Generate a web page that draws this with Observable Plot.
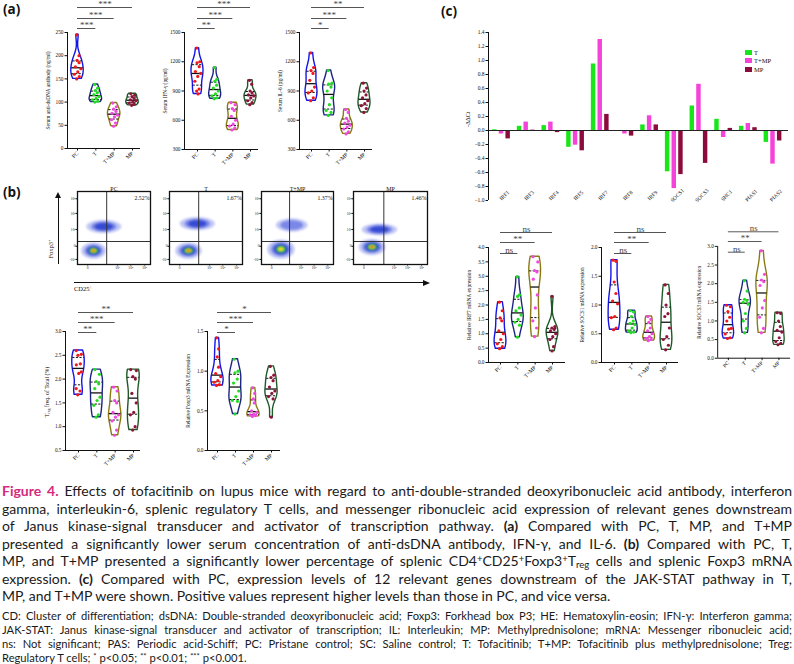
<!DOCTYPE html>
<html><head><meta charset="utf-8">
<script src="https://cdn.jsdelivr.net/npm/d3@7"></script>
<script src="https://cdn.jsdelivr.net/npm/@observablehq/plot@0.6"></script>
<style>
body{margin:0;background:#fff;}
#fig{position:relative;width:794px;height:664px;overflow:hidden;background:#fff;}
.p{position:absolute;}
.plab{position:absolute;font-family:"Open Sans",sans-serif;font-weight:700;font-size:13.5px;color:#111;line-height:1;}
.rot{position:absolute;transform:translate(-50%,-50%) rotate(-90deg);white-space:nowrap;font-family:"Liberation Serif",serif;color:#111;}
#cap{position:absolute;left:2px;top:482px;width:790px;font-family:Lato,sans-serif;font-size:14px;line-height:17.5px;color:#1a1a1a;}
#cap .j{text-align:justify;text-align-last:justify;}
#cap .fig{color:#d42a7e;font-weight:700;}
#foot{position:absolute;left:2px;top:609px;width:790px;font-family:Lato,sans-serif;font-size:11.2px;line-height:14px;color:#1a1a1a;}
#foot .j{text-align:justify;text-align-last:justify;}
.sp{font-size:68%;position:relative;top:-0.45em;line-height:0;vertical-align:baseline;}
.sb{font-size:68%;position:relative;top:0.25em;line-height:0;vertical-align:baseline;}
.leg{position:absolute;font-family:"Liberation Serif",serif;font-size:6.5px;color:#111;display:flex;align-items:center;gap:2px;}
.leg span.sw{display:inline-block;width:7px;height:5px;}
</style></head>
<body><div id="fig"></div>
<script>
// ---------------- DATA ----------------
const groups = ["PC", "T", "T+MP", "MP"];

// (a) serum levels (one list per group: PC, T, T+MP, MP)
const antiDsDNA = [
  [245, 200, 190, 185, 176, 172, 165, 160, 155, 150],
  [138, 130, 125, 120, 116, 112, 108, 105, 102, 100],
  [98, 90, 85, 80, 76, 72, 68, 62, 55, 48],
  [118, 115, 112, 108, 105, 103, 100, 98, 95, 93]
];
const ifnGamma = [
  [1340, 1200, 1190, 1150, 1100, 1080, 1050, 1000, 920, 900, 870],
  [1140, 1020, 1000, 960, 930, 900, 870, 850, 830, 820],
  [780, 760, 720, 700, 640, 600, 560, 540, 520, 500],
  [1010, 970, 900, 880, 860, 850, 830, 800, 780, 760]
];
const il6 = [
  [1290, 1140, 1110, 1080, 1010, 940, 900, 880, 830, 800],
  [1110, 980, 970, 940, 900, 830, 760, 700, 680, 650],
  [710, 680, 620, 590, 570, 550, 530, 510, 480, 460],
  [980, 930, 900, 860, 830, 800, 770, 750, 720, 680]
];
const antiDsDNASig = [["***", 0, 1], ["***", 0, 2], ["***", 0, 3]];
const ifnGammaSig = [["**", 0, 1], ["***", 0, 2], ["***", 0, 3]];
const il6Sig = [["*", 0, 1], ["***", 0, 2], ["**", 0, 3]];

// (b) Treg and Foxp3
const tregFreq = [
  [2.6, 2.52, 2.5, 2.32, 2.3, 2.15, 2.12, 1.8, 1.75, 1.67],
  [2.2, 2.1, 1.95, 1.9, 1.8, 1.62, 1.55, 1.45, 1.25, 1.2],
  [1.83, 1.75, 1.55, 1.5, 1.3, 1.25, 1.2, 1.12, 0.93, 0.82],
  [2.2, 2.18, 2.05, 2.0, 1.7, 1.5, 1.3, 1.25, 1.0, 0.93]
];
const foxp3Expr = [
  [1.42, 1.28, 1.18, 1.05, 0.97, 0.93, 0.88, 0.86, 0.83, 0.82],
  [1.15, 1.0, 0.98, 0.9, 0.85, 0.75, 0.68, 0.63, 0.62, 0.46],
  [0.79, 0.72, 0.65, 0.6, 0.5, 0.48, 0.46, 0.45, 0.44, 0.43],
  [1.06, 0.95, 0.92, 0.88, 0.8, 0.75, 0.72, 0.68, 0.65, 0.42]
];
const tregSig = [["**", 0, 1], ["***", 0, 2], ["**", 0, 3]];
const foxp3Sig = [["*", 0, 1], ["***", 0, 2], ["*", 0, 3]];

// (b) flow cytometry
const flowGroups = ["PC", "T", "T+MP", "MP"];
const flowPercent = ["2.52%", "1.67%", "1.37%", "1.46%"];
const gateCD25 = [0.40, 0.40, 0.39, 0.41];
const gateFoxp3 = [0.315, 0.315, 0.315, 0.315];
// clusters: [centre CD25, centre Foxp3, spread CD25, spread Foxp3, density level]
const negClusters = [[0.22, 0.19, 0.17, 0.11, 4], [0.26, 0.19, 0.18, 0.11, 4], [0.27, 0.21, 0.19, 0.13, 3], [0.25, 0.24, 0.18, 0.11, 4]];
const posClusters = [[0.36, 0.52, 0.24, 0.09, 1], [0.38, 0.56, 0.24, 0.09, 1], [0.42, 0.54, 0.22, 0.09, 0], [0.35, 0.48, 0.24, 0.08, 1]];
const flowYTicks = [[0.07, "-10³"], [0.25, "0"], [0.48, "10³"], [0.70, "10⁴"], [0.90, "10⁵"]];
const flowXTicks = [[0.14, "0"], [0.55, "10³"], [0.73, "10⁴"], [0.92, "10⁵"]];

// (c) -ΔΔCt bar chart
const genes = ["IRF1", "IRF3", "IRF4", "IRF5", "IRF7", "IRF8", "IRF9", "SOCS1", "SOCS3", "SHC1", "PIAS1", "PIAS2"];
const ddctT = [0.01, 0.06, 0.07, -0.24, 0.95, -0.01, 0.08, -0.59, 0.35, 0.16, 0.06, -0.17];
const ddctTMP = [-0.05, 0.12, 0.12, -0.21, 1.30, -0.05, 0.21, -0.83, 0.66, -0.10, 0.10, -0.48];
const ddctMP = [-0.12, 0.005, -0.03, -0.29, 0.23, -0.08, 0.08, -0.63, -0.47, 0.03, 0.04, -0.15];
const barSeries = ["T", "T+MP", "MP"];

// (c) relative mRNA expression
const irf7Expr = [
  [2.1, 1.8, 1.55, 1.45, 1.1, 1.0, 0.8, 0.65, 0.55, 0.48],
  [2.98, 2.35, 2.3, 1.9, 1.8, 1.65, 1.5, 1.4, 1.3, 0.88],
  [3.68, 3.5, 3.2, 3.15, 2.9, 2.35, 1.9, 1.45, 1.2, 0.9],
  [2.3, 1.25, 1.2, 1.15, 1.1, 1.0, 0.9, 0.8, 0.55, 0.4]
];
const socs1Expr = [
  [1.78, 1.76, 1.4, 1.2, 1.07, 1.02, 0.8, 0.78, 0.6, 0.57],
  [0.9, 0.88, 0.8, 0.72, 0.68, 0.66, 0.6, 0.55, 0.53, 0.52],
  [0.8, 0.75, 0.7, 0.6, 0.55, 0.5, 0.45, 0.42, 0.4, 0.38],
  [1.35, 1.2, 1.0, 0.85, 0.8, 0.6, 0.45, 0.4, 0.3, 0.22]
];
const socs3Expr = [
  [1.42, 1.38, 1.25, 1.1, 1.0, 0.8, 0.78, 0.65, 0.55, 0.53],
  [2.08, 1.8, 1.58, 1.55, 1.5, 1.45, 1.2, 1.0, 0.8, 0.68],
  [2.88, 2.25, 2.1, 2.05, 1.95, 1.55, 1.35, 1.1, 0.8, 0.68],
  [1.22, 1.2, 1.0, 0.85, 0.75, 0.7, 0.55, 0.45, 0.4, 0.36]
];
const irf7Sig = [["ns", 0, 1], ["**", 0, 2], ["ns", 0, 3]];
const socs1Sig = [["ns", 0, 1], ["**", 0, 2], ["ns", 0, 3]];
const socs3Sig = [["ns", 0, 1], ["**", 0, 2], ["ns", 0, 3]];

// ---------------- STYLES ----------------
const outlineColors = ["#1414e8", "#1c2584", "#8a7a12", "#1d5a28"];
const pointColors = ["#f01818", "#22dd22", "#f048e0", "#8c1538"];
const barColors = ["#19e619", "#f542d8", "#8b0c3c"];
const svgStyle = "background:transparent;overflow:visible;font-family:'Liberation Serif',serif;color:#111;";
const fig = document.getElementById("fig");

function place(node, left, top) {
  const d = document.createElement("div");
  d.className = "p";
  d.style.left = left + "px"; d.style.top = top + "px";
  d.appendChild(node); fig.appendChild(d); return d;
}
function html(cls, text, css) {
  const d = document.createElement("div");
  d.className = cls; d.innerHTML = text; Object.assign(d.style, css); fig.appendChild(d); return d;
}

function kde(vals) {
  const lo = d3.min(vals), hi = d3.max(vals);
  const h = 0.75 * d3.deviation(vals) * Math.pow(vals.length, -0.2);
  const ys = d3.range(31).map(k => lo + (hi - lo) * k / 30);
  const dens = ys.map(y => d3.sum(vals, v => Math.exp(-0.5 * ((y - v) / h) ** 2)));
  const m = d3.max(dens);
  const w = dens.map(d => 0.34 * d / m);
  const at = y => {
    const t = (y - lo) / (hi - lo) * 30;
    const k = Math.max(0, Math.min(29, Math.floor(t)));
    const f = Math.max(0, Math.min(1, t - k));
    return w[k] * (1 - f) + w[k + 1] * f;
  };
  return {ys, w, at};
}
const jitter = [-0.5, 0.5, -0.1, 0.3, -0.35, 0.55, 0.05, -0.55, 0.35, -0.2, 0.15];

function violinChart(c) {
  const mL = 30, mR = 4, mT = 40, mB = 28;
  const left = c.ax - mL, top = c.yTop - mT;
  const width = c.right - c.ax + mL + mR;
  const height = c.yBot - c.yTop + mT + mB;
  const r0 = c.x0 - left, r1 = c.x3 - left;
  const inv = px => (px - r0) / (r1 - r0) * 3;
  const marks = [
    Plot.ruleX([inv(mL)], {stroke: "#111", strokeWidth: 1}),
    Plot.ruleY([c.domain[0]], {stroke: "#111", strokeWidth: 1}),
    Plot.axisY({ticks: c.ticks, tickFormat: c.fmt, tickSize: 2.5, tickPadding: 1.5, fontSize: 5.3,
      label: c.label, labelAnchor: "center", labelOffset: 21, labelArrow: "none"}),
    Plot.axisX({ticks: [0, 1, 2, 3], tickFormat: i => groups[i], tickRotate: -45, tickSize: 2.5, tickPadding: 1.5, fontSize: 5.5, label: null})
  ];
  c.data.forEach((vals, g) => {
    const v = kde(vals);
    const rows = v.ys.map((y, k) => ({y, xl: g - v.w[k], xr: g + v.w[k]}));
    marks.push(Plot.areaX(rows, {y: "y", x1: "xl", x2: "xr", fill: "white", stroke: outlineColors[g], strokeWidth: 1.4, curve: "basis"}));
    const sorted = vals.slice().sort(d3.ascending);
    const q = [0.25, 0.5, 0.75].map(p => d3.quantile(sorted, p));
    const qrows = q.map((y, k) => ({y, x1: g - v.at(y) * 0.95, x2: g + v.at(y) * 0.95, k}));
    marks.push(Plot.ruleY(qrows.filter(d => d.k !== 1), {y: "y", x1: "x1", x2: "x2", stroke: "#111", strokeWidth: 1, strokeDasharray: "2.2,1.4"}));
    marks.push(Plot.ruleY(qrows.filter(d => d.k === 1), {y: "y", x1: "x1", x2: "x2", stroke: "#111", strokeWidth: 1.3}));
    const pts = vals.map((y, i) => ({y, x: g + jitter[i % jitter.length] * v.at(y)}));
    marks.push(Plot.dot(pts, {x: "x", y: "y", r: 1.6, fill: pointColors[g], stroke: "none"}));
  });
  c.sig.forEach(([lab, a, b], k) => {
    marks.push(Plot.ruleY([{y: c.domain[1], x1: a, x2: b}], {y: "y", x1: "x1", x2: "x2", stroke: "#555", strokeWidth: 1, dy: -c.offs[k]}));
    marks.push(Plot.text([{x: (a + b) / 2, y: c.domain[1], t: lab}], {x: "x", y: "y", text: "t", dy: -c.offs[k] - 0.5, lineAnchor: "bottom", fontSize: 9, fill: "#444"}));
  });
  const p = Plot.plot({width, height, marginLeft: mL, marginRight: mR, marginTop: mT, marginBottom: mB,
    x: {domain: [0, 3], range: [r0, r1]}, y: {domain: c.domain}, style: svgStyle, marks});
  place(p, left, top);
}

const f0 = d3.format("d"), f1 = d3.format(".1f");
// (a)
violinChart({data: antiDsDNA, sig: antiDsDNASig, ax: 67, right: 140, x0: 77, x3: 132, yTop: 32, yBot: 148, domain: [0, 250],
  ticks: [0, 50, 100, 150, 200, 250], fmt: f0, label: "Serum anti-dsDNA antibody (ng/ml)", offs: [4, 14, 25]});
violinChart({data: ifnGamma, sig: ifnGammaSig, ax: 184, right: 258, x0: 197, x3: 250, yTop: 32, yBot: 149, domain: [300, 1500],
  ticks: [300, 600, 900, 1200, 1500], fmt: f0, label: "Serum IFN-γ (pg/ml)", offs: [4, 14, 25]});
violinChart({data: il6, sig: il6Sig, ax: 299, right: 372, x0: 311, x3: 364, yTop: 32, yBot: 149, domain: [300, 1500],
  ticks: [300, 600, 900, 1200, 1500], fmt: f0, label: "Serum IL-6 (pg/ml)", offs: [4, 14, 25]});
// (b)
violinChart({data: tregFreq, sig: tregSig, ax: 65, right: 140, x0: 78, x3: 133, yTop: 331, yBot: 450, domain: [0.5, 3.0],
  ticks: [0.5, 1.0, 1.5, 2.0, 2.5, 3.0], fmt: f1, label: null, offs: [-1, 9, 19]});
violinChart({data: foxp3Expr, sig: foxp3Sig, ax: 207, right: 280, x0: 217, x3: 271, yTop: 331, yBot: 450, domain: [0, 1.5],
  ticks: [0, 0.5, 1.0, 1.5], fmt: f1, label: "Relative Foxp3 mRNA Expression", offs: [-1, 9, 19]});
html("rot", "T<span class='sb'>reg</span> freq. of Total (%)", {left: "47px", top: "392px", fontSize: "5.8px"});
// (c) violins
violinChart({data: irf7Expr, sig: irf7Sig, ax: 488, right: 565, x0: 500, x3: 552, yTop: 247, yBot: 362, domain: [0, 4],
  ticks: d3.range(0, 9).map(k => k / 2), fmt: f1, label: "Relative IRF7 mRNA expression", offs: [-6, 5, 15]});
violinChart({data: socs1Expr, sig: socs1Sig, ax: 601, right: 678, x0: 614, x3: 666, yTop: 247, yBot: 362, domain: [0, 2],
  ticks: [0, 0.5, 1.0, 1.5, 2.0], fmt: f1, label: "Relative SOCS1 mRNA expression", offs: [-6, 5, 15]});
violinChart({data: socs3Expr, sig: socs3Sig, ax: 718, right: 793, x0: 729, x3: 781, yTop: 247, yBot: 362, domain: [0, 3],
  ticks: [0, 0.5, 1.0, 1.5, 2.0, 2.5, 3.0], fmt: f1, label: "Relative SOCS3 mRNA expression", offs: [-6, 5, 15]});

// (b) flow panels
const flowBoxes = [[77, 150], [169, 242], [261, 333], [353, 427]];
const layerScale = [1, 0.72, 0.52, 0.36, 0.23, 0.12];
const layerFill = ["#b9c0f3", "#6f7ce4", "#2f42d2", "#30bf58", "#ecdc22", "#e4361a"];
const layerOpacity = [0.9, 0.85, 0.9, 0.95, 1, 1];
function ellipse(c, s) {
  return d3.range(36).map(k => { const t = 2 * Math.PI * k / 36; return {x: c[0] + c[2] * s * Math.cos(t), y: c[1] + c[3] * s * Math.sin(t)}; });
}
flowGroups.forEach((name, i) => {
  const [x0, x1] = flowBoxes[i];
  const mL = 10, mR = 2, mT = 12, mB = 9;
  const yT = 191, yB = 264;
  const marks = [];
  [negClusters[i], posClusters[i]].forEach(cl => {
    const n = Math.min(6, cl[4] + 2);
    for (let L = 0; L < n; L++) {
      marks.push(Plot.line(ellipse(cl, layerScale[L]), {x: "x", y: "y", curve: "catmull-rom-closed", fill: layerFill[L], fillOpacity: layerOpacity[L], stroke: "none", clip: true}));
    }
  });
  const yl = new Map(flowYTicks), xl = new Map(flowXTicks);
  marks.push(
    Plot.ruleX([gateCD25[i]], {stroke: "#333", strokeWidth: 1}),
    Plot.ruleY([gateFoxp3[i]], {stroke: "#333", strokeWidth: 1}),
    Plot.frame({stroke: "#111", strokeWidth: 1.3}),
    Plot.axisY({ticks: flowYTicks.map(d => d[0]), tickFormat: v => yl.get(v), tickSize: 1.5, tickPadding: 0.5, fontSize: 3.6, label: null}),
    Plot.axisX({ticks: flowXTicks.map(d => d[0]), tickFormat: v => xl.get(v), tickSize: 1.5, tickPadding: 0.5, fontSize: 3.6, label: null}),
    Plot.text([name], {text: d => d, frameAnchor: "top", dy: -5, fontSize: 6}),
    Plot.text([flowPercent[i]], {text: d => d, frameAnchor: "top-right", dx: -1, dy: 4.5, textAnchor: "end", fontSize: 5.8})
  );
  const p = Plot.plot({width: x1 - x0 + mL + mR, height: yB - yT + mT + mB, marginLeft: mL, marginRight: mR, marginTop: mT, marginBottom: mB,
    x: {domain: [0, 1]}, y: {domain: [0, 1]}, style: svgStyle, marks});
  // soften the density layers
  const ns = "http://www.w3.org/2000/svg";
  const defs = document.createElementNS(ns, "defs");
  const filt = document.createElementNS(ns, "filter");
  filt.setAttribute("id", "fb" + i); filt.setAttribute("x", "-50%"); filt.setAttribute("y", "-50%"); filt.setAttribute("width", "200%"); filt.setAttribute("height", "200%");
  const blur = document.createElementNS(ns, "feGaussianBlur"); blur.setAttribute("stdDeviation", "1.1");
  filt.appendChild(blur); defs.appendChild(filt); p.insertBefore(defs, p.firstChild);
  p.querySelectorAll('g[aria-label="line"]').forEach(g => g.setAttribute("filter", "url(#fb" + i + ")"));
  place(p, x0 - mL, yT - mT);
});
// flow axis arrows and titles
html("p", "", {left: "57.5px", top: "197px", width: "1px", height: "67px", background: "#111"});
html("p", "", {left: "55px", top: "192px", width: "0", height: "0", borderLeft: "3px solid transparent", borderRight: "3px solid transparent", borderBottom: "6px solid #111"});
html("p", "", {left: "74px", top: "282px", width: "350px", height: "1px", background: "#111"});
html("p", "", {left: "423px", top: "279.5px", width: "0", height: "0", borderTop: "3px solid transparent", borderBottom: "3px solid transparent", borderLeft: "7px solid #111"});
html("rot", "Foxp3<span class='sp'>+</span>", {left: "50px", top: "249px", fontSize: "6.5px"});
html("p", "CD25<span class='sp'>+</span>", {left: "74px", top: "285px", fontSize: "6.5px", fontFamily: "'Liberation Serif',serif", color: "#111"});

// (c) bar chart
{
  const mL = 40, mR = 4, mT = 10, mB = 12;
  const ax = 488, left = ax - mL, yTop = 32, yBot = 200, right = 788;
  const width = right - left + mR, height = yBot - yTop + mT + mB;
  const r0 = 501 - left, r1 = 772.5 - left;
  const inv = px => (px - r0) / (r1 - r0) * 11;
  const rows = [];
  [ddctT, ddctTMP, ddctMP].forEach((arr, s) => arr.forEach((v, i) => {
    const o = (s - 1) * 0.27;
    rows.push({x1: i + o - 0.09, x2: i + o + 0.09, y1: 0, y2: v, s});
  }));
  const marks = [
    ...[0, 1, 2].map(s => Plot.rect(rows.filter(d => d.s === s), {x1: "x1", x2: "x2", y1: "y1", y2: "y2", fill: barColors[s]})),
    Plot.ruleY([0], {stroke: "#222", strokeWidth: 1}),
    Plot.ruleX([inv(mL)], {stroke: "#111", strokeWidth: 1}),
    Plot.axisY({ticks: d3.range(-10, 15, 2).map(v => v / 10), tickFormat: f1, tickSize: 2.5, tickPadding: 1.5, fontSize: 5.5, label: null}),
    Plot.text([{y: 0.05, t: "-ΔΔCt"}], {y: "y", text: "t", frameAnchor: "left", dx: -20, rotate: -90, fontSize: 6}),
    Plot.text(genes, {x: (d, i) => i, y: () => -1, text: d => d, rotate: -45, dx: 3, dy: -5, fontSize: 5.5})
  ];
  const p = Plot.plot({width, height, marginLeft: mL, marginRight: mR, marginTop: mT, marginBottom: mB,
    x: {domain: [0, 11], range: [r0, r1], axis: null}, y: {domain: [-1, 1.4]}, style: svgStyle, marks});
  place(p, left, yTop - mT);
  barSeries.forEach((s, k) => {
    html("leg", `<span class="sw" style="background:${barColors[k]}"></span>${s}`, {left: "745px", top: (49 + k * 8.3) + "px"});
  });
}

// panel labels
html("plab", "(a)", {left: "3px", top: "3px"});
html("plab", "(b)", {left: "3px", top: "186px"});
html("plab", "(c)", {left: "441px", top: "5px"});

// caption
html("", `<div id="cap">
<div class="j"><span class="fig">Figure 4.</span> Effects of tofacitinib on lupus mice with regard to anti-double-stranded deoxyribonucleic acid antibody, interferon</div>
<div class="j">gamma, interleukin-6, splenic regulatory T cells, and messenger ribonucleic acid expression of relevant genes downstream</div>
<div class="j">of Janus kinase-signal transducer and activator of transcription pathway. <b>(a)</b> Compared with PC, T, MP, and T+MP</div>
<div class="j">presented a significantly lower serum concentration of anti-dsDNA antibody, IFN-γ, and IL-6. <b>(b)</b> Compared with PC, T,</div>
<div class="j">MP, and T+MP presented a significantly lower percentage of splenic CD4<span class="sp">+</span>CD25<span class="sp">+</span>Foxp3<span class="sp">+</span>T<span class="sb">reg</span> cells and splenic Foxp3 mRNA</div>
<div class="j">expression. <b>(c)</b> Compared with PC, expression levels of 12 relevant genes downstream of the JAK-STAT pathway in T,</div>
<div>MP, and T+MP were shown. Positive values represent higher levels than those in PC, and vice versa.</div>
</div>
<div id="foot">
<div class="j">CD: Cluster of differentiation; dsDNA: Double-stranded deoxyribonucleic acid; Foxp3: Forkhead box P3; HE: Hematoxylin-eosin; IFN-γ: Interferon gamma;</div>
<div class="j">JAK-STAT: Janus kinase-signal transducer and activator of transcription; IL: Interleukin; MP: Methylprednisolone; mRNA: Messenger ribonucleic acid;</div>
<div class="j">ns: Not significant; PAS: Periodic acid-Schiff; PC: Pristane control; SC: Saline control; T: Tofacitinib; T+MP: Tofacitinib plus methylprednisolone; Treg:</div>
<div>Regulatory T cells; <span class="sp">*</span> p&lt;0.05; <span class="sp">**</span> p&lt;0.01; <span class="sp">***</span> p&lt;0.001.</div>
</div>`, {});
</script>
</body></html>
